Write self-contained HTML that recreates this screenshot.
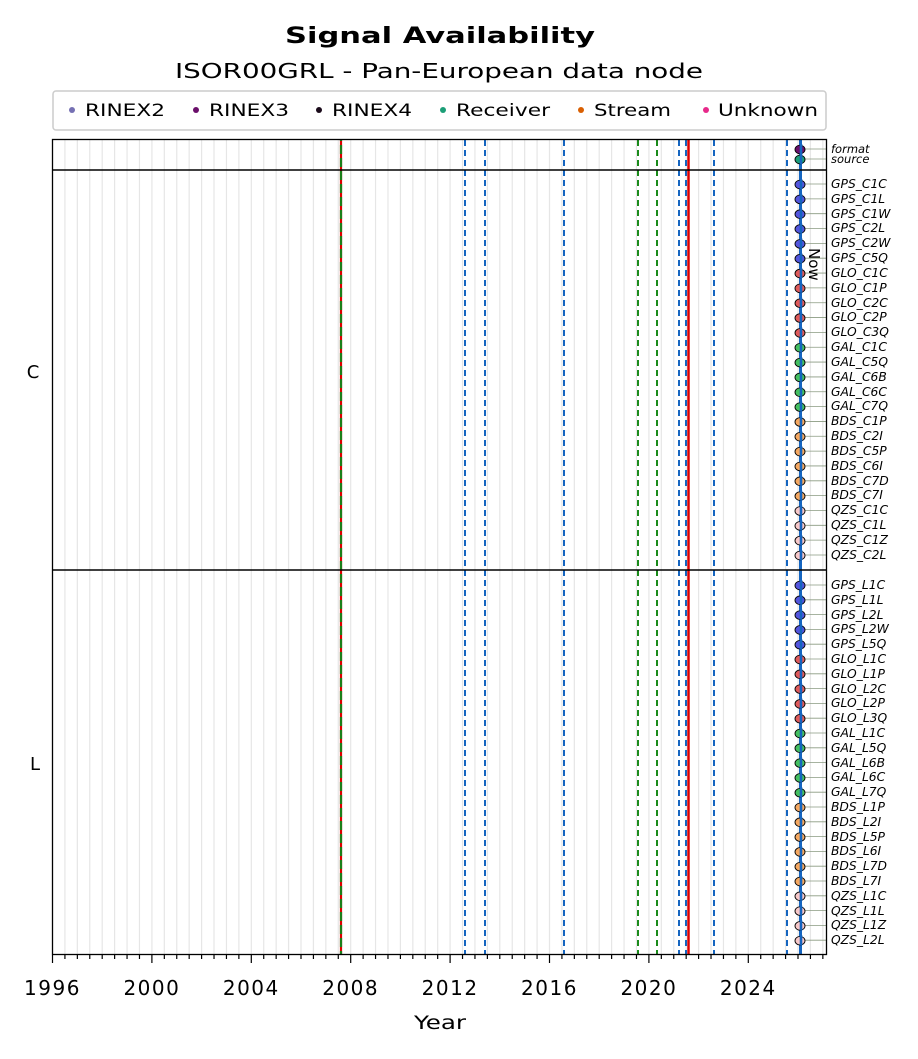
<!DOCTYPE html>
<html><head><meta charset="utf-8"><style>
body{margin:0;background:#fff;}
svg text{font-family:"DejaVu Sans","Liberation Sans",sans-serif;}
</style></head><body>
<svg id="s" width="918" height="1054" xmlns="http://www.w3.org/2000/svg">
<rect width="918" height="1054" fill="#fff"/>
<text x="285" y="43" font-size="22" font-weight="bold" textLength="310" lengthAdjust="spacingAndGlyphs">Signal Availability</text>
<text x="175" y="78" font-size="20" textLength="528" lengthAdjust="spacingAndGlyphs">ISOR00GRL - Pan-European data node</text>
<rect x="53" y="91" width="773" height="39" rx="3" fill="#fff" stroke="#ccc" stroke-width="1.5"/>
<g font-size="17">
<circle cx="72" cy="110" r="3" fill="#7570b3"/><text x="85" y="116" textLength="80" lengthAdjust="spacingAndGlyphs">RINEX2</text>
<circle cx="196" cy="110" r="3" fill="#6a0f6a"/><text x="209" y="116" textLength="80" lengthAdjust="spacingAndGlyphs">RINEX3</text>
<circle cx="319" cy="110" r="3" fill="#1a0a1a"/><text x="332" y="116" textLength="80" lengthAdjust="spacingAndGlyphs">RINEX4</text>
<circle cx="443" cy="110" r="3" fill="#1b9e77"/><text x="456" y="116" textLength="94" lengthAdjust="spacingAndGlyphs">Receiver</text>
<circle cx="581" cy="110" r="3" fill="#d95f02"/><text x="594" y="116" textLength="77" lengthAdjust="spacingAndGlyphs">Stream</text>
<circle cx="706" cy="110" r="3" fill="#e7298a"/><text x="718" y="116" textLength="100" lengthAdjust="spacingAndGlyphs">Unknown</text>
</g>
<g id="grid"></g>
<g id="vl"></g>
<g id="mk"></g>
<rect x="52.5" y="139.5" width="774" height="815" fill="none" stroke="#000" stroke-width="1.3"/>
<line x1="52" y1="170" x2="827" y2="170" stroke="#000" stroke-width="1.5"/>
<line x1="52" y1="570" x2="827" y2="570" stroke="#000" stroke-width="1.5"/>
<text x="809" y="248" font-size="15" transform="rotate(90 809 248)">Now</text>
<g font-size="18"><text x="33" y="378" text-anchor="middle">C</text><text x="35" y="770" text-anchor="middle">L</text></g>
<g font-size="20" text-anchor="middle" letter-spacing="1.5">
<text x="52.5" y="995">1996</text><text x="151.9" y="995">2000</text><text x="251.3" y="995">2004</text><text x="350.7" y="995">2008</text><text x="450.1" y="995">2012</text><text x="549.5" y="995">2016</text><text x="648.9" y="995">2020</text><text x="748.3" y="995">2024</text>
</g>
<text x="414" y="1029" font-size="19" textLength="52" lengthAdjust="spacingAndGlyphs">Year</text>
<g font-size="12.3" font-style="italic" id="lab">
<text x="831" y="153" font-size="11.5">format</text><text x="831" y="163" font-size="11.5">source</text>
<text x="831" y="188">GPS_C1C</text><text x="831" y="203">GPS_C1L</text><text x="831" y="218">GPS_C1W</text><text x="831" y="232">GPS_C2L</text><text x="831" y="247">GPS_C2W</text><text x="831" y="262">GPS_C5Q</text>
<text x="831" y="277">GLO_C1C</text><text x="831" y="292">GLO_C1P</text><text x="831" y="307">GLO_C2C</text><text x="831" y="321">GLO_C2P</text><text x="831" y="336">GLO_C3Q</text>
<text x="831" y="351">GAL_C1C</text><text x="831" y="366">GAL_C5Q</text><text x="831" y="381">GAL_C6B</text><text x="831" y="396">GAL_C6C</text><text x="831" y="410">GAL_C7Q</text>
<text x="831" y="425">BDS_C1P</text><text x="831" y="440">BDS_C2I</text><text x="831" y="455">BDS_C5P</text><text x="831" y="470">BDS_C6I</text><text x="831" y="485">BDS_C7D</text><text x="831" y="499">BDS_C7I</text>
<text x="831" y="514">QZS_C1C</text><text x="831" y="529">QZS_C1L</text><text x="831" y="544">QZS_C1Z</text><text x="831" y="559">QZS_C2L</text>
<text x="831" y="589">GPS_L1C</text><text x="831" y="604">GPS_L1L</text><text x="831" y="619">GPS_L2L</text><text x="831" y="633">GPS_L2W</text><text x="831" y="648">GPS_L5Q</text>
<text x="831" y="663">GLO_L1C</text><text x="831" y="678">GLO_L1P</text><text x="831" y="693">GLO_L2C</text><text x="831" y="707">GLO_L2P</text><text x="831" y="722">GLO_L3Q</text>
<text x="831" y="737">GAL_L1C</text><text x="831" y="752">GAL_L5Q</text><text x="831" y="767">GAL_L6B</text><text x="831" y="781">GAL_L6C</text><text x="831" y="796">GAL_L7Q</text>
<text x="831" y="811">BDS_L1P</text><text x="831" y="826">BDS_L2I</text><text x="831" y="841">BDS_L5P</text><text x="831" y="855">BDS_L6I</text><text x="831" y="870">BDS_L7D</text><text x="831" y="885">BDS_L7I</text>
<text x="831" y="900">QZS_L1C</text><text x="831" y="915">QZS_L1L</text><text x="831" y="929">QZS_L1Z</text><text x="831" y="944">QZS_L2L</text>
</g>
</svg>
<script>
var NS="http://www.w3.org/2000/svg";
function el(p,t,a){var e=document.createElementNS(NS,t);for(var k in a)e.setAttribute(k,a[k]);document.getElementById(p).appendChild(e);return e;}
function X(y){return 52.5+(y-1996)*24.85;}
for(var y=1996.5;y<2027.2;y+=0.5){el('grid','line',{x1:X(y),x2:X(y),y1:140,y2:954,stroke:'#e6e6e6','stroke-width':1.2});}
for(var y=1996;y<2027.2;y+=0.5){var maj=(y%4===0);el('grid','line',{x1:X(y),x2:X(y),y1:955,y2:maj?963:959,stroke:'#000','stroke-width':1.2});}
el('vl','line',{x1:341,x2:341,y1:140,y2:955,stroke:'#d00','stroke-width':2.2});
el('vl','line',{x1:341,x2:341,y1:140,y2:955,stroke:'#1a7f1a','stroke-width':2.2,'stroke-dasharray':'9 4','stroke-dashoffset':'-5'});
[465,485,564,679,686,714,787].forEach(function(x){el('vl','line',{x1:x,x2:x,y1:140,y2:955,stroke:'#1565c0','stroke-width':2,'stroke-dasharray':'6 4'});});
[638,657].forEach(function(x){el('vl','line',{x1:x,x2:x,y1:140,y2:955,stroke:'#1a8a1a','stroke-width':2,'stroke-dasharray':'6 4'});});
el('vl','line',{x1:688.5,x2:688.5,y1:140,y2:955,stroke:'#d00','stroke-width':2.5});
var rows=[[149,'#6a0f6a'],[159,'#1b9e77']];
var cC=['#5555dd','#5555dd','#5555dd','#5555dd','#5555dd','#5555dd','#e05a5a','#e05a5a','#e05a5a','#e05a5a','#e05a5a','#45c060','#45c060','#45c060','#45c060','#45c060','#f6a860','#f6a860','#f6a860','#f6a860','#f6a860','#f6a860','#f8c8c8','#f8c8c8','#f8c8c8','#f8c8c8'];
for(var i=0;i<26;i++)rows.push([184+i*14.84,cC[i]]);
var cL=cC.slice(0,5).concat(cC.slice(6));
for(var i=0;i<25;i++)rows.push([585+i*14.8,cL[i]]);
rows.forEach(function(r){el('mk','line',{x1:800,x2:827,y1:r[0],y2:r[0],stroke:'#8a9a80','stroke-width':0.8});});
el('mk','line',{x1:800.5,x2:800.5,y1:140,y2:955,stroke:'#1565c0','stroke-width':3});
rows.forEach(function(r){el('mk','ellipse',{cx:800,cy:r[0]+0.5,rx:5,ry:4.3,fill:r[1],stroke:'#000','stroke-width':0.9});
el('mk','line',{x1:801,x2:801,y1:r[0]-5,y2:r[0]+5,stroke:'#1565c0','stroke-width':2.6});});
</script>
</body></html>
